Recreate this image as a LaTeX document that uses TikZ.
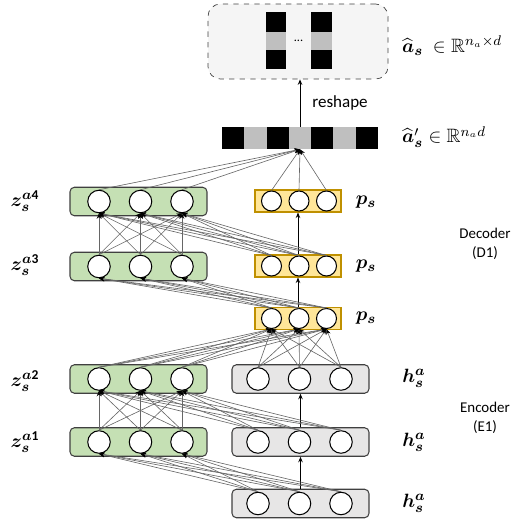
\documentclass[tikz,border=0pt]{standalone}
\usepackage{amsmath,amssymb,bm}
\usepackage{fontspec}
\setmainfont{Carlito}
\usepackage{tikz}
\usetikzlibrary{arrows.meta,positioning,calc}

\definecolor{zgreen}{HTML}{C5E0B4}
\definecolor{pyellow}{HTML}{FFE699}
\definecolor{pgold}{HTML}{BF9000}
\definecolor{hgray}{HTML}{E7E6E6}
\definecolor{cellgray}{HTML}{BFBFBF}

\begin{document}
\begin{tikzpicture}[
    x=0.02cm, y=-0.02cm,
    >={Stealth[length=1.1mm,width=0.9mm]},
    layer/.style={
        rectangle,
        rounded corners=2.5pt,
        draw=black!75,
        fill=#1,
        line width=0.6pt,
        minimum width=2.74cm,
        minimum height=0.57cm
    },
    plane/.style={
        rectangle,
        draw=pgold,
        fill=pyellow,
        line width=0.6pt,
        minimum width=1.72cm,
        minimum height=0.44cm
    },
    neuron/.style={
        circle,
        draw=black,
        fill=white,
        line width=0.6pt,
        inner sep=0pt,
        minimum size=#1
    },
    neuron/.default=0.45cm,
    link/.style={-{Stealth[length=1.1mm,width=0.9mm,black]}, draw=black!60, line width=0.35pt},
    cell/.style={rectangle, fill=#1, inner sep=0pt, minimum width=0.446cm, minimum height=0.44cm},
    bar/.style={rectangle, fill=#1, inner sep=0pt, minimum width=0.42cm},
    lab/.style={font=\fontsize{11}{13}\selectfont},
    note/.style={font=\fontsize{8.5}{10.5}\selectfont, align=center}
]
\useasboundingbox (0,0) rectangle (525,520);

% Output (reshaped)
\node[rectangle, rounded corners=7pt, dashed, draw=black!75, fill=black!4,
      minimum width=3.6cm, minimum height=1.5cm] (outbox) at (298,41.5) {};
\foreach \b/\x in {1/276,2/321.5} {
    \node[bar=black, minimum height=0.4cm] (bar\b-t) at (\x,22) {};
    \node[bar=cellgray, minimum height=0.36cm] (bar\b-m) at (\x,41) {};
    \node[bar=black, minimum height=0.38cm] (bar\b-b) at (\x,59.5) {};
}
\node[font=\scriptsize] (dots) at (298.5,41) {...};

% Flat output strip
\foreach \k/\c in {1/black,2/cellgray,3/black,4/cellgray,5/black,6/cellgray,7/black}
    \node[cell=\c] (cell\k) at ({222+22.29*(\k-0.5)},138) {};
\draw[->,line width=0.5pt] (cell4.north) -- (cell4.north |- outbox.south);
\node[font=\fontsize{9.7}{11}\selectfont] (reshape) at (340,103) {reshape};

% Encoder (E1)
\foreach \n/\y in {1/503.5,2/442,3/379} {
    \node[layer=hgray] (h\n) at (300.5,\y) {};
    \foreach \i/\x in {1/258,2/299.5,3/341}
        \node[neuron] (h\n-\i) at (\x,\y) {};
}

% Decoder (D1)
\foreach \n/\y in {1/318.5,2/266,3/201} {
    \node[plane] (p\n) at (298,\y) {};
    \foreach \i/\x in {1/271.5,2/299,3/326.5}
        \node[neuron=0.4cm] (p\n-\i) at (\x,\y) {};
}

% Green chain
\foreach \n/\y in {1/442,2/379,3/266.5,4/201.5} {
    \node[layer=zgreen] (z\n) at (138.5,\y) {};
    \foreach \i/\x in {1/99,2/140.5,3/182}
        \node[neuron] (z\n-\i) at (\x,\y) {};
}

% Right-side chain
\draw[->,line width=0.5pt] (h1.north) -- (h2.south);
\draw[->,line width=0.5pt] (h2.north) -- (h3.south);
\draw[->,line width=0.5pt] (p1.north) -- (p2.south);
\draw[->,line width=0.5pt] (p2.north) -- (p3.south);

% Dense links
\foreach \i in {1,2,3}
    \foreach \j in {1,2,3} {
        \draw[link] (h3-\i.north) -- (p1-\j.south);
        \draw[link] (h1-\i.north) -- (z1-\j.south);
        \draw[link] (z1-\i.north) -- (z2-\j.south);
        \draw[link] (h2-\i.north) -- (z2-\j.south);
        \draw[link] (z2-\i.north) -- (p1-\j.south);
        \draw[link] (p1-\i.north) -- (z3-\j.south);
        \draw[link] (z3-\i.north) -- (z4-\j.south);
        \draw[link] (p2-\i.north) -- (z4-\j.south);
    }
\foreach \i in {1,2,3} {
    \draw[link] (p3-\i.north) -- (cell4.south);
    \draw[link] (z4-\i.north) -- (cell4.south);
}

% Labels
\node[lab, anchor=west] (lout) at (396,46) {$\widehat{\bm{a}}_{\bm{s}}\ \in\mathbb{R}^{n_a\times d}$};
\node[lab, anchor=west] (lflat) at (396,137) {$\widehat{\bm{a}}'_{\bm{s}}\in\mathbb{R}^{n_a d}$};
\foreach \n/\y in {4/201,3/265,2/381,1/442}
    \node[lab] (lz\n) at (25,\y) {$\bm{z}_{\bm{s}}^{\bm{a}\mathbf{\n}}$};
\foreach \n/\y in {3/202,2/266,1/318}
    \node[lab] (lp\n) at (366,\y) {$\bm{p}_{\bm{s}}$};
\foreach \n/\y in {3/378,2/442,1/503}
    \node[lab] (lh\n) at (414,\y) {$\bm{h}_{\bm{s}}^{\bm{a}}$};
\node[note] (dec) at (485,244) {Decoder\\(D1)};
\node[note] (enc) at (485,418) {Encoder\\(E1)};

\end{tikzpicture}
\end{document}
